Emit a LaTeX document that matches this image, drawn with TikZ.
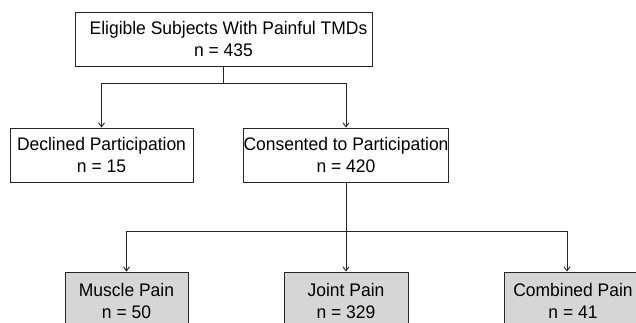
\documentclass[tikz,border=0pt]{standalone}
\usepackage{fontspec}
\setmainfont{Liberation Sans}[FakeStretch=0.96]
\usetikzlibrary{arrows.meta,calc}
\begin{document}
\begin{tikzpicture}[x=1pt,y=1pt,
  box/.style={draw=black!85, line width=0.9pt, minimum height=54pt, inner sep=0pt,
    align=center, font=\fontsize{18.2}{22}\selectfont},
  graybox/.style={box, fill=black!16, minimum height=58pt},
  conn/.style={draw=black!85, line width=0.9pt},
  arr/.style={conn, -{Straight Barb[length=4pt,width=6pt]}}]
\useasboundingbox (0,0) rectangle (636,323);
\clip (0,0) rectangle (636,323);
\node[box, minimum width=297pt] (top) at (223.5,284) {\hspace{10pt}Eligible Subjects With Painful TMDs\\n = 435};
\node[box, minimum width=183pt] (decl) at (101.5,168) {Declined Participation\\n = 15};
\node[box, minimum width=204pt] (cons) at (346,168) {Consented to Participation\\n = 420};
\node[graybox, minimum width=123pt] (musc) at (126.5,22) {Muscle Pain\\n = 50};
\node[graybox, minimum width=124pt] (joint) at (346,22) {Joint Pain\\n = 329};
\node[graybox, minimum width=138pt] (comb) at (573,22) {Combined Pain\\n = 41};
\coordinate (s1) at ($(top.south)+(0,-17)$);
\coordinate (s2) at ($(cons.south)+(0,-49)$);
\coordinate (combin) at ($(comb.north)+(-6,0)$);
\draw[conn] (top.south) -- (s1);
\draw[arr] (s1) -| (decl.north);
\draw[arr] (s1) -| (cons.north);
\draw[arr] (cons.south) -- (joint.north);
\draw[arr] (s2) -| (musc.north);
\draw[arr] (s2) -| (combin);
\end{tikzpicture}
\end{document}
